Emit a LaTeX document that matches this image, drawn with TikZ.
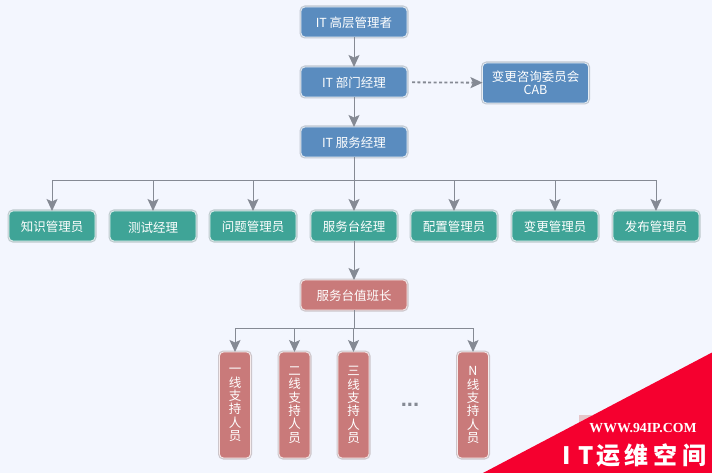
\documentclass[tikz,border=0pt]{standalone}
\usepackage{fontspec}
\setmainfont{Noto Sans CJK SC}
\newfontfamily\webfont{Liberation Serif}
\newfontfamily\dotfont{Liberation Sans}
\usetikzlibrary{arrows.meta}
\definecolor{pagebg}{HTML}{F3F6FE}
\definecolor{blueboxfill}{HTML}{5A8CBF}
\definecolor{tealboxfill}{HTML}{3FA497}
\definecolor{redboxfill}{HTML}{C97A7A}
\definecolor{linkgray}{HTML}{858A94}
\definecolor{bannerred}{HTML}{F5002F}
\definecolor{patchpink}{HTML}{E6C6CA}
\tikzset{
    box/.style={rounded corners=4pt,draw=white!85!#1,line width=.8pt,text=white,inner sep=0pt,outer sep=0pt,
        font=\fontsize{12.5}{13.3}\selectfont,align=center,
        execute at begin node={\rule{0pt}{13pt}},
        preaction={draw=#1!25!gray!40!pagebg,line width=3pt}},
    bluebox/.style={box=blueboxfill,fill=blueboxfill,minimum width=106pt,minimum height=30pt},
    tealbox/.style={box=tealboxfill,fill=tealboxfill,minimum width=86pt,minimum height=30pt},
    redbox/.style={box=redboxfill,fill=redboxfill,minimum width=106pt,minimum height=30pt},
    tallbox/.style={box=redboxfill,fill=redboxfill,minimum width=31pt,minimum height=106pt,
        execute at begin node={\rule{0pt}{15pt}}},
    link/.style={draw=linkgray,line width=1pt,-{Stealth[length=12pt,width=11pt,inset=2.5pt]}},
    plainlink/.style={draw=linkgray,line width=1pt}
}
\begin{document}
\begin{tikzpicture}[x=1pt,y=-1pt]
    \fill[pagebg] (0,0) rectangle (712,473);
    \useasboundingbox (0,0) rectangle (712,473);
    % upper part
    \node[bluebox] (top) at (354,22) {IT 高层管理者};
    \node[bluebox] (dept) at (354,82) {IT 部门经理};
    \node[bluebox] (svc) at (354,142) {IT 服务经理};
    \node[bluebox,minimum height=40pt] (cab) at (535.5,83) {变更咨询委员会\\CAB};
    \draw[link] (top) -- (dept);
    \draw[link] (dept) -- (svc);
    \draw[link,dash pattern=on 3pt off 2.4pt,line width=1.8pt,shorten <=5pt] (dept) -- (cab);
    % second row
    \coordinate (rowbus) at (354,181);
    \draw[plainlink] (svc) -- (rowbus);
    \foreach \name/\x/\label in {know/52/知识管理员,test/153/测试经理,prob/253/问题管理员,desk/354/服务台经理,conf/454/配置管理员,chg/555/变更管理员,rel/656/发布管理员}
    {
        \node[tealbox] (\name) at (\x,226) {\label};
        \draw[link] (rowbus) -| (\name);
    }
    % lower part
    \node[redbox] (lead) at (354,295) {服务台值班长};
    \draw[link] (desk) -- (lead);
    \coordinate (lowbus) at (354,328);
    \draw[plainlink] (lead) -- (lowbus);
    \foreach \name/\x/\label in {one/235/一,two/294.5/二,three/353.5/三,nth/473/N}
    {
        \node[tallbox] (\name) at (\x,405) {\label\\线\\支\\持\\人\\员};
        \draw[link] (lowbus) -| (\name);
    }
    \node[text=linkgray,font=\dotfont\bfseries\fontsize{22}{22}\selectfont,anchor=base,inner sep=0pt] (dots) at (410,406) {...};
    % corner banner
    \fill[patchpink] (579,415) rectangle (592,425);
    \fill[bannerred] (712,352.5) -- (483,473) -- (712,473) -- cycle;
    \node[text=white,font=\webfont\bfseries\fontsize{13.8}{15}\selectfont,inner sep=0pt] (url) at (643,428.5) {WWW.94IP.COM};
    \node[text=white,font=\bfseries\fontsize{24}{26}\selectfont,inner sep=0pt] (brand) at (634.5,455) {I\hspace{7pt}T\hspace{3pt}运\hspace{4pt}维\hspace{5pt}空\hspace{5pt}间};
\end{tikzpicture}
\end{document}
